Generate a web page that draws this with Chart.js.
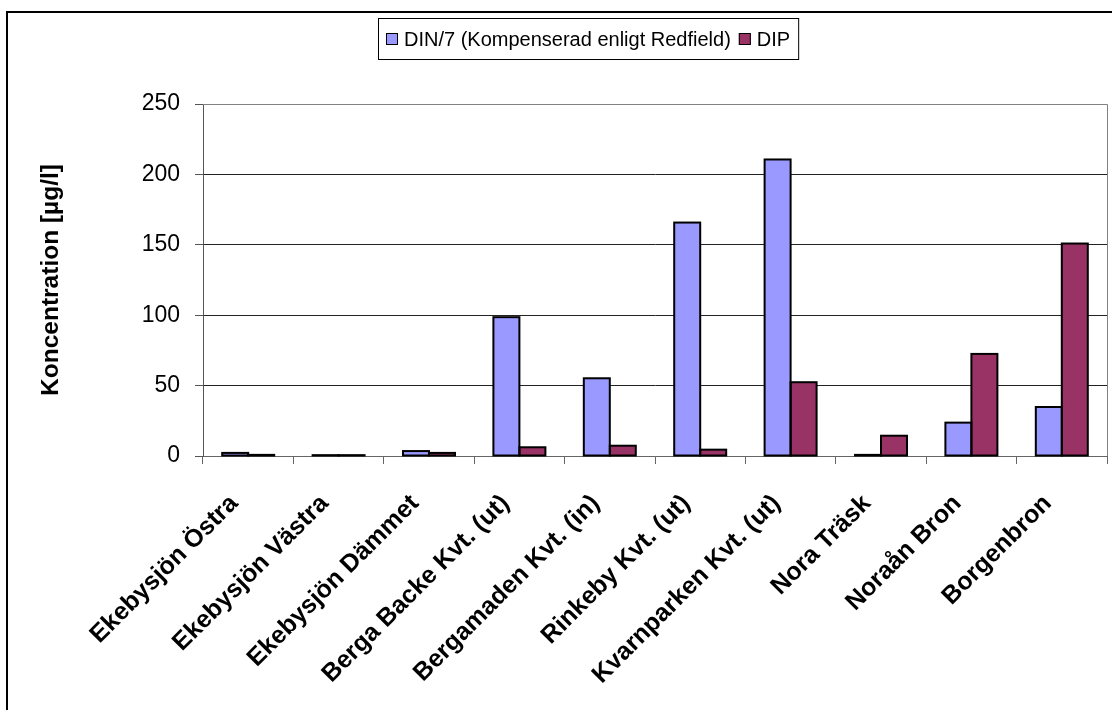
<!DOCTYPE html>
<html>
<head>
<meta charset="utf-8">
<script src="https://cdn.jsdelivr.net/npm/chart.js@4.4.1/dist/chart.umd.min.js"></script>
<style>
  html, body { margin: 0; padding: 0; background: #fff; }
  #wrap { width: 1112px; height: 710px; }
</style>
</head>
<body>
<div id="wrap"><canvas id="c" width="1112" height="710"></canvas></div>
<script>
// Sampling stations
const stations = [
  'Ekebysjön Östra', 'Ekebysjön Västra', 'Ekebysjön Dämmet',
  'Berga Backe Kvt. (ut)', 'Bergamaden Kvt. (in)', 'Rinkeby Kvt. (ut)',
  'Kvarnparken Kvt. (ut)', 'Nora Träsk', 'Noraån Bron', 'Borgenbron'
];
// Dissolved inorganic nitrogen divided by 7 (Redfield ratio), µg/l
const dinRedfield = [2.2, 0.6, 3.5, 98.6, 55.2, 165.8, 210.6, 0.8, 23.7, 34.8];
// Dissolved inorganic phosphorus, µg/l
const dip = [0.8, 0.6, 2.2, 6.2, 7.3, 4.5, 52.4, 14.4, 72.5, 150.9];
// Value axis ticks
const yTicks = [0, 50, 100, 150, 200, 250];

const seriesNames = ['DIN/7 (Kompenserad enligt Redfield)', 'DIP'];
const seriesColors = ['#9999FF', '#993366'];

Chart.defaults.font.family = '"Liberation Sans", Arial, sans-serif';
Chart.defaults.color = '#000';

// Page background, outer frame, bar outlines, plot frame and boxed legend
const decor = {
  id: 'decor',
  beforeDraw(chart) {
    const ctx = chart.ctx;
    ctx.save();
    ctx.fillStyle = '#fff';
    ctx.fillRect(0, 0, chart.width, chart.height);
    ctx.strokeStyle = '#000';
    ctx.lineWidth = 2;
    ctx.strokeRect(7, 12, chart.width + 20, chart.height + 20);
    ctx.restore();
  },
  afterDatasetsDraw(chart) {
    // outline every bar, centred on its edge so even zero-height bars show
    const ctx = chart.ctx;
    ctx.save();
    ctx.strokeStyle = '#000';
    ctx.lineWidth = 2;
    chart.data.datasets.forEach((d, di) => {
      chart.getDatasetMeta(di).data.forEach(bar => {
        const left = bar.x - bar.width / 2;
        const top = Math.min(bar.y, bar.base);
        const h = Math.abs(bar.base - bar.y);
        ctx.strokeRect(left, top, bar.width, h);
      });
    });
    ctx.restore();
  },
  afterDraw(chart) {
    const ctx = chart.ctx;
    const a = chart.chartArea;
    ctx.save();
    // grey plot-area frame on top and right
    ctx.strokeStyle = '#808080';
    ctx.lineWidth = 1;
    ctx.beginPath();
    ctx.moveTo(a.left, a.top + 0.5);
    ctx.lineTo(a.right + 0.5, a.top + 0.5);
    ctx.lineTo(a.right + 0.5, a.bottom);
    ctx.stroke();

    // legend
    ctx.font = '20px "Liberation Sans", Arial, sans-serif';
    const sq = 12, gap = 6, itemGap = 8, pad = 8;
    const widths = chart.data.datasets.map(d => ctx.measureText(d.label).width);
    let total = pad * 2;
    widths.forEach((w, i) => { total += sq + gap + w + (i ? itemGap : 0); });
    const boxTop = 18, boxH = 41;
    const boxLeft = Math.round(588 - total / 2);
    ctx.fillStyle = '#fff';
    ctx.fillRect(boxLeft, boxTop, total, boxH);
    ctx.strokeStyle = '#000';
    ctx.strokeRect(boxLeft + 0.5, boxTop + 0.5, total, boxH);
    let x = boxLeft + pad;
    const cy = boxTop + boxH / 2 + 0.5;
    chart.data.datasets.forEach((d, i) => {
      if (i) x += itemGap;
      ctx.fillStyle = d.backgroundColor;
      ctx.fillRect(x, cy - sq / 2, sq, sq);
      ctx.strokeStyle = '#000';
      ctx.strokeRect(x + 0.5, cy - sq / 2 + 0.5, sq - 1, sq - 1);
      x += sq + gap;
      ctx.fillStyle = '#000';
      ctx.textBaseline = 'middle';
      ctx.textAlign = 'left';
      ctx.fillText(d.label, x, cy + 1);
      x += widths[i];
    });
    ctx.restore();
  }
};

new Chart(document.getElementById('c'), {
  type: 'bar',
  data: {
    labels: stations,
    datasets: [
      { label: seriesNames[0], data: dinRedfield, backgroundColor: seriesColors[0] },
      { label: seriesNames[1], data: dip, backgroundColor: seriesColors[1] }
    ]
  },
  options: {
    responsive: false,
    animation: false,
    devicePixelRatio: 1,
    layout: { padding: { top: 104, left: 10, right: 5, bottom: 0 } },
    datasets: {
      bar: {
        borderWidth: 0,
        barPercentage: 1,
        categoryPercentage: 0.575
      }
    },
    plugins: {
      legend: { display: false },
      tooltip: { enabled: false }
    },
    scales: {
      x: {
        grid: {
          offset: true,
          drawOnChartArea: false,
          tickLength: 8,
          color: '#666'
        },
        border: { color: '#666', width: 1 },
        ticks: {
          autoSkip: false,
          minRotation: 45,
          maxRotation: 45,
          padding: 25,
          labelOffset: -14,
          font: { size: 25, weight: 'bold' },
          color: '#000'
        },
        afterFit(scale) { scale.height = 254; }
      },
      y: {
        min: 0,
        max: 250,
        afterBuildTicks(scale) { scale.ticks = yTicks.map(v => ({ value: v })); },
        grid: {
          tickLength: 8,
          color: ctx => (ctx.tick && (ctx.tick.value === 250 || ctx.tick.value === 0)) ? '#808080' : '#222',
          tickColor: '#555'
        },
        border: { color: '#555', width: 1 },
        ticks: {
          padding: 15,
          font: { size: 23 },
          color: '#000'
        },
        title: {
          display: true,
          text: 'Koncentration [µg/l]',
          font: { size: 24.5, weight: 'bold' },
          padding: { top: 27, bottom: 0 },
          color: '#000'
        },
        afterFit(scale) { scale.width = 193; }
      }
    }
  },
  plugins: [decor]
});
</script>
</body>
</html>
